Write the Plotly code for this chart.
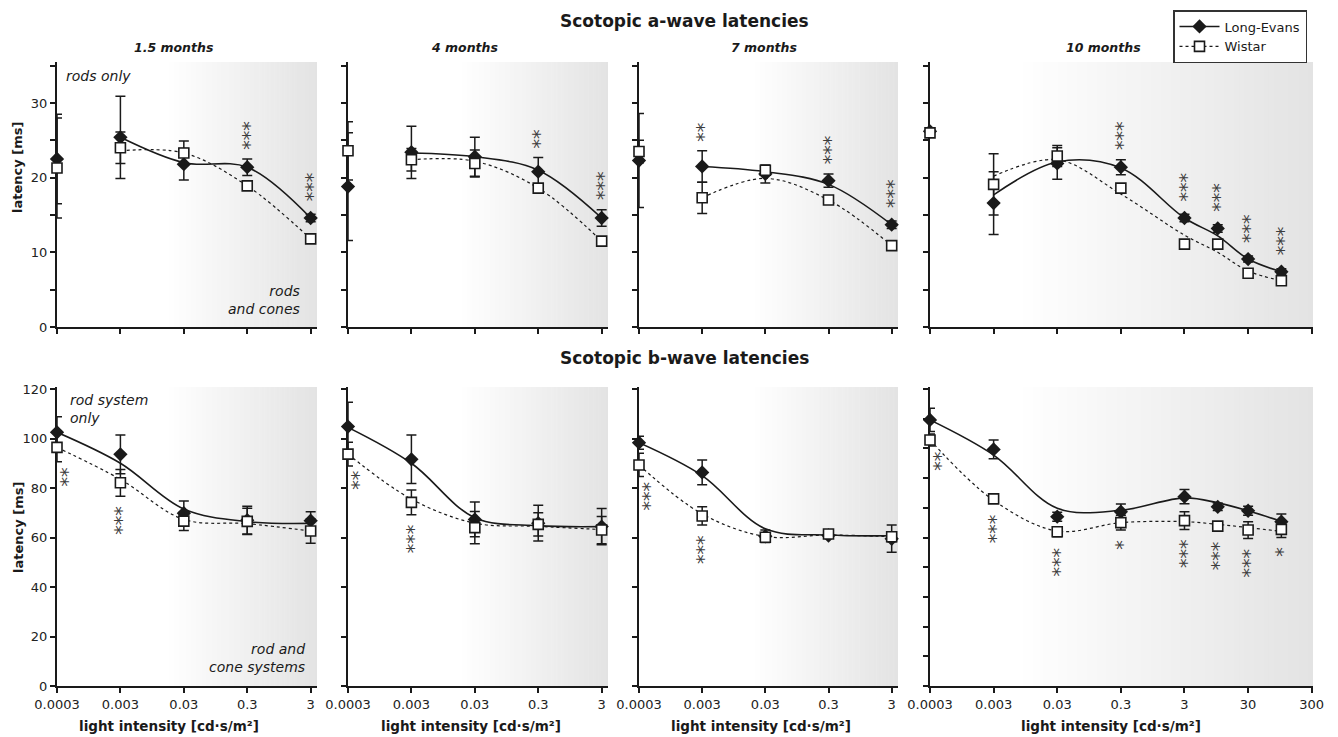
import math
import plotly.graph_objects as go

# ---------------------------------------------------------------------------
# Light intensities (cd·s/m²) and axis labels
# ---------------------------------------------------------------------------
X_SHORT = [0.0003, 0.003, 0.03, 0.3, 3]
X_LONG = [0.0003, 0.003, 0.03, 0.3, 3, 10, 30, 100]
TICKS_SHORT = [0.0003, 0.003, 0.03, 0.3, 3]
TICKTEXT_SHORT = ["0.0003", "0.003", "0.03", "0.3", "3"]
TICKS_LONG = [0.0003, 0.003, 0.03, 0.3, 3, 30, 300]
TICKTEXT_LONG = ["0.0003", "0.003", "0.03", "0.3", "3", "30", "300"]

AGES = ["1.5 months", "4 months", "7 months", "10 months"]

# ---------------------------------------------------------------------------
# Scotopic a-wave latencies (ms): means, error bars, fitted curves, significance
# (a-wave fits start at 0.003)
# ---------------------------------------------------------------------------
a15_le = [22.5, 25.4, 21.8, 21.4, 14.6]
a15_le_err = [6.0, 5.5, 2.1, 1.1, 0.5]
a15_wi = [21.3, 24.0, 23.3, 18.9, 11.8]
a15_wi_err = [6.7, 2.1, 1.6, 0.6, 0.4]
a15_le_fit = [25.4, 22.0, 21.4, 14.6]
a15_wi_fit = [23.6, 23.3, 18.9, 11.8]
a15_sig = ["", "", "", "***", "***"]

a4_le = [18.8, 23.4, 22.8, 20.8, 14.6]
a4_le_err = [7.2, 3.5, 2.6, 1.9, 1.1]
a4_wi = [23.6, 22.4, 21.9, 18.6, 11.5]
a4_wi_err = [3.9, 1.5, 1.8, 0.5, 0.4]
a4_le_fit = [23.3, 22.8, 21.0, 14.6]
a4_wi_fit = [22.4, 22.2, 18.6, 11.5]
a4_sig = ["", "", "", "**", "***"]

a7_le = [22.3, 21.5, 20.5, 19.6, 13.7]
a7_le_err = [6.3, 2.1, 1.2, 0.9, 0.5]
a7_wi = [23.5, 17.3, 21.0, 17.0, 10.9]
a7_wi_err = [1.5, 2.1, 0.5, 0.5, 0.4]
a7_le_fit = [21.5, 20.8, 19.1, 13.7]
a7_wi_fit = [17.3, 19.9, 17.0, 10.9]
a7_sig = ["", "**", "", "***", "***"]

a10_le = [26.2, 16.6, 21.9, 21.4, 14.6, 13.2, 9.1, 7.4]
a10_le_err = [0.5, 4.2, 2.1, 1.0, 0.5, 0.5, 0.4, 0.4]
a10_wi = [26.0, 19.1, 22.9, 18.6, 11.1, 11.1, 7.2, 6.2]
a10_wi_err = [0.5, 4.1, 1.4, 0.4, 0.4, 0.4, 0.3, 0.3]
a10_le_fit = [17.7, 22.1, 21.3, 14.6, 12.2, 9.1, 7.4]
a10_wi_fit = [20.2, 22.4, 17.8, 12.3, 10.0, 7.5, 6.2]
a10_sig = ["", "", "", "***", "***", "***", "***", "***"]

# ---------------------------------------------------------------------------
# Scotopic b-wave latencies (ms) (b-wave fits start at 0.0003)
# ---------------------------------------------------------------------------
b15_le = [102.5, 93.6, 69.8, 67.0, 66.8]
b15_le_err = [6.3, 7.8, 4.9, 5.6, 3.6]
b15_wi = [96.4, 82.1, 66.6, 66.5, 62.6]
b15_wi_err = [5.8, 5.4, 3.8, 5.3, 4.9]
b15_le_fit = [102.5, 90.0, 71.5, 66.4, 65.7]
b15_wi_fit = [96.4, 83.5, 67.3, 65.6, 62.6]
b15_sig = ["**", "***", "", "", ""]

b4_le = [104.8, 91.6, 67.3, 65.8, 64.4]
b4_le_err = [9.8, 9.8, 7.0, 7.2, 7.3]
b4_wi = [93.7, 74.2, 64.0, 65.3, 63.0]
b4_wi_err = [4.8, 5.0, 6.5, 4.7, 5.5]
b4_le_fit = [104.5, 90.0, 68.0, 64.8, 64.4]
b4_wi_fit = [93.7, 75.5, 65.8, 64.5, 63.2]
b4_sig = ["**", "***", "", "", ""]

b7_le = [98.3, 86.3, 60.5, 60.8, 59.5]
b7_le_err = [2.6, 5.0, 2.5, 1.0, 5.5]
b7_wi = [89.3, 68.7, 60.1, 61.4, 60.3]
b7_wi_err = [4.7, 3.7, 1.5, 1.0, 2.0]
b7_le_fit = [98.3, 85.0, 63.5, 61.0, 60.7]
b7_wi_fit = [89.3, 69.5, 60.4, 61.0, 60.3]
b7_sig = ["***", "***", "", "", ""]

b10_le = [107.5, 95.6, 68.4, 70.4, 76.5, 72.4, 70.8, 66.4]
b10_le_err = [4.7, 3.8, 1.8, 3.1, 2.9, 1.5, 1.8, 3.1]
b10_wi = [99.4, 75.6, 62.3, 66.0, 66.8, 64.6, 63.0, 63.3]
b10_wi_err = [2.4, 1.5, 2.0, 3.0, 3.6, 1.5, 3.4, 3.3]
b10_le_fit = [107.5, 93.3, 71.8, 71.0, 76.0, 74.0, 70.8, 66.5]
b10_wi_fit = [99.4, 75.0, 62.6, 66.0, 66.4, 65.3, 64.0, 62.5]
b10_sig = ["**", "***", "***", "*", "***", "***", "***", "*"]

# ---------------------------------------------------------------------------
# Page geometry
# ---------------------------------------------------------------------------
W, H = 1338, 737
FONT = "DejaVu Sans"
INK = "#1a1a1a"
STAR_INK = "#3c3c3c"

COL_PX = [(57, 317), (348, 608), (639, 898), (930, 1313)]
ROW_PX = {"a": (62, 327), "b": (387, 686)}
PPU = {"a": 7.467, "b": 2.475}           # pixels per ms
DECADES = [4.1, 4.1, 4.1, 6.02]
SHADE_START = [0.42, 0.43, 0.44, 0.23]    # gradient start, fraction of panel width
SHADE_END_GREY = 227

LOG = math.log10
X0 = LOG(0.0003)

panels = {
    "a": [
        (X_SHORT, a15_le, a15_le_err, a15_wi, a15_wi_err, a15_le_fit, a15_wi_fit, a15_sig),
        (X_SHORT, a4_le, a4_le_err, a4_wi, a4_wi_err, a4_le_fit, a4_wi_fit, a4_sig),
        (X_SHORT, a7_le, a7_le_err, a7_wi, a7_wi_err, a7_le_fit, a7_wi_fit, a7_sig),
        (X_LONG, a10_le, a10_le_err, a10_wi, a10_wi_err, a10_le_fit, a10_wi_fit, a10_sig),
    ],
    "b": [
        (X_SHORT, b15_le, b15_le_err, b15_wi, b15_wi_err, b15_le_fit, b15_wi_fit, b15_sig),
        (X_SHORT, b4_le, b4_le_err, b4_wi, b4_wi_err, b4_le_fit, b4_wi_fit, b4_sig),
        (X_SHORT, b7_le, b7_le_err, b7_wi, b7_wi_err, b7_le_fit, b7_wi_fit, b7_sig),
        (X_LONG, b10_le, b10_le_err, b10_wi, b10_wi_err, b10_le_fit, b10_wi_fit, b10_sig),
    ],
}

fig = go.Figure()
layout = {}
shapes = []
annotations = []

LE_MARKER = dict(symbol="diamond", size=11, color=INK, line=dict(width=0))
WI_MARKER = dict(symbol="square", size=10, color="white", line=dict(color=INK, width=1.6))
ERR = dict(type="data", color=INK, thickness=1.5, width=5)

# asterisk stacks are written as one rotated string, so the glyph advance
# gives the vertical pitch of the stack
STAR_SIZE = 19
STAR_PITCH = 0.5 * STAR_SIZE
STAR_XNUDGE = -4   # the asterisk sits high in its line box; rotation turns that sideways


def paper_text(xpx, ypx, text, size, angle=0):
    """Centred text placed in page pixels."""
    return dict(x=xpx / W, y=1 - ypx / H, xref="paper", yref="paper", text=text,
                textangle=angle, showarrow=False, xanchor="center", yanchor="middle",
                font=dict(family=FONT, size=size, color=INK))


def star_annotations(row, xref, yref, x, le, le_e, wi, wi_e, sig):
    """Stack significance asterisks above / below / beside the marks."""
    y_bottom = ROW_PX[row][1]
    ppu = PPU[row]

    def px(v):
        return y_bottom - v * ppu

    def val(p):
        return (y_bottom - p) / ppu

    out = []
    for i, s in enumerate(sig):
        if not s:
            continue
        n = len(s)
        span = STAR_PITCH * (n - 1)
        xshift = 0
        if row == "a":
            top = min(px(le[i] + le_e[i]), px(le[i]) - 7,
                      px(wi[i] + wi_e[i]), px(wi[i]) - 6)
            centre = top - 14 - span / 2
        elif i == 0:
            base = px(wi[i] - wi_e[i])
            centre = base + 10 + span / 2
            xshift = 9
        else:
            bottom = max(px(le[i] - le_e[i]), px(le[i]) + 7,
                         px(wi[i] - wi_e[i]), px(wi[i]) + 6)
            centre = bottom + 15 + span / 2
        out.append(dict(
            x=LOG(x[i]), y=val(centre), xref=xref, yref=yref, text=s,
            textangle=90, showarrow=False, xanchor="center", yanchor="middle",
            xshift=xshift + STAR_XNUDGE,
            font=dict(family=FONT, size=STAR_SIZE, color=STAR_INK)))
    return out


for r, row in enumerate(["a", "b"]):
    for c in range(4):
        idx = r * 4 + c + 1
        xa = "x" if idx == 1 else f"x{idx}"
        ya = "y" if idx == 1 else f"y{idx}"
        xs, le, le_e, wi, wi_e, le_fit, wi_fit, sig = panels[row][c]
        fit_x = xs[1:] if row == "a" else xs

        # fitted curves
        fig.add_trace(go.Scatter(
            x=fit_x, y=le_fit, mode="lines", xaxis=xa, yaxis=ya,
            line=dict(color=INK, width=1.6, shape="spline", smoothing=1.0),
            showlegend=False, hoverinfo="skip", cliponaxis=False))
        fig.add_trace(go.Scatter(
            x=fit_x, y=wi_fit, mode="lines", xaxis=xa, yaxis=ya,
            line=dict(color=INK, width=1.2, dash="dot", shape="spline", smoothing=1.0),
            showlegend=False, hoverinfo="skip", cliponaxis=False))
        # group means with error bars
        fig.add_trace(go.Scatter(
            x=xs, y=le, mode="markers", xaxis=xa, yaxis=ya, marker=LE_MARKER,
            error_y=dict(ERR, array=le_e), showlegend=False, cliponaxis=False,
            name="Long-Evans"))
        fig.add_trace(go.Scatter(
            x=xs, y=wi, mode="markers", xaxis=xa, yaxis=ya, marker=WI_MARKER,
            error_y=dict(ERR, array=wi_e), showlegend=False, cliponaxis=False,
            name="Wistar"))

        # axes
        px0, px1 = COL_PX[c]
        py0, py1 = ROW_PX[row]
        x_dom = [px0 / W, px1 / W]
        y_dom = [1 - py1 / H, 1 - py0 / H]
        long_axis = c == 3
        axis_common = dict(showline=True, linecolor=INK, linewidth=2,
                           ticks="outside", ticklen=5, tickwidth=1.5, tickcolor=INK,
                           showgrid=False, zeroline=False, layer="below traces",
                           tickfont=dict(family=FONT, size=13, color="#222"),
                           fixedrange=True, automargin=False)
        layout["xaxis" if idx == 1 else f"xaxis{idx}"] = dict(
            axis_common, type="log", domain=x_dom, anchor=ya,
            range=[X0, X0 + DECADES[c]],
            tickmode="array",
            tickvals=TICKS_LONG if long_axis else TICKS_SHORT,
            ticktext=TICKTEXT_LONG if long_axis else TICKTEXT_SHORT,
            showticklabels=(row == "b"))
        if row == "a":
            yt = list(range(0, 36, 5))
            ytext = [str(v) if v % 10 == 0 else "" for v in yt]
            yrange = [0, (py1 - py0) / PPU["a"]]
        else:
            step = 12 if long_axis else 20
            yt = list(range(0, 121, step))
            ytext = [str(v) for v in yt]
            yrange = [0, (py1 - py0) / PPU["b"]]
        layout["yaxis" if idx == 1 else f"yaxis{idx}"] = dict(
            axis_common, domain=y_dom, anchor=xa, range=yrange,
            tickmode="array", tickvals=yt, ticktext=ytext,
            showticklabels=(c == 0))

        # grey gradient band: rods-only region fades into rod + cone region
        s0 = SHADE_START[c]
        n_strips = 60
        for k in range(n_strips):
            f0 = s0 + (1 - s0) * k / n_strips
            f1 = s0 + (1 - s0) * (k + 1) / n_strips
            g = round(255 - (255 - SHADE_END_GREY) * (k + 0.5) / n_strips)
            shapes.append(dict(
                type="rect", xref=f"{xa} domain", yref=f"{ya} domain",
                x0=f0, x1=min(f1 + 0.002, 1.0), y0=0, y1=1,
                fillcolor=f"rgb({g},{g},{g})", line=dict(width=0), layer="below"))

        annotations += star_annotations(row, xa, ya, xs, le, le_e, wi, wi_e, sig)

        # age headings above the a-wave panels, axis titles below the b-wave panels
        if row == "a":
            annotations.append(paper_text([173, 464, 764, 1103][c], 47,
                                          f"<b><i>{AGES[c]}</i></b>", 12.5))
        else:
            annotations.append(paper_text([169, 471, 761, 1111][c], 726,
                                          "<b>light intensity [cd·s/m²]</b>", 13.5))

# legend entries
fig.add_trace(go.Scatter(
    x=[None], y=[None], mode="lines+markers", name="Long-Evans",
    line=dict(color=INK, width=1.6), marker=LE_MARKER))
fig.add_trace(go.Scatter(
    x=[None], y=[None], mode="lines+markers", name="Wistar",
    line=dict(color=INK, width=1.2, dash="dot"), marker=WI_MARKER))

# row titles
annotations.append(paper_text(684, 21, "<b>Scotopic a-wave latencies</b>", 17))
annotations.append(paper_text(684, 358, "<b>Scotopic b-wave latencies</b>", 17))

# y-axis titles
for ypx in [168, 528]:
    annotations.append(paper_text(18, ypx, "<b>latency [ms]</b>", 13, angle=-90))

# photoreceptor notes
note_font = dict(family=FONT, size=14, color=INK)
annotations += [
    dict(x=0.027, y=0.947, xref="x domain", yref="y domain", text="<i>rods only</i>",
         showarrow=False, xanchor="left", yanchor="middle", font=note_font),
    dict(x=0.942, y=0.102, xref="x domain", yref="y domain",
         text="<i>rods<br>and cones</i>", align="right",
         showarrow=False, xanchor="right", yanchor="middle", font=note_font),
    dict(x=0.042, y=0.928, xref="x5 domain", yref="y5 domain",
         text="<i>rod system<br>only</i>", align="left",
         showarrow=False, xanchor="left", yanchor="middle", font=note_font),
    dict(x=0.962, y=0.094, xref="x5 domain", yref="y5 domain",
         text="<i>rod and<br>cone systems</i>", align="right",
         showarrow=False, xanchor="right", yanchor="middle", font=note_font),
]

fig.update_layout(
    width=W, height=H,
    margin=dict(l=0, r=0, t=0, b=0, pad=0, autoexpand=False),
    paper_bgcolor="white", plot_bgcolor="rgba(0,0,0,0)",
    font=dict(family=FONT, color=INK),
    shapes=shapes, annotations=annotations,
    showlegend=True,
    legend=dict(x=1173 / W, y=1 - 10 / H, xanchor="left", yanchor="top",
                bgcolor="white", bordercolor="#333", borderwidth=1.5,
                font=dict(family=FONT, size=13, color=INK),
                tracegroupgap=0, itemwidth=40),
    **layout,
)

fig.write_html("out.html", config={"displayModeBar": False})
